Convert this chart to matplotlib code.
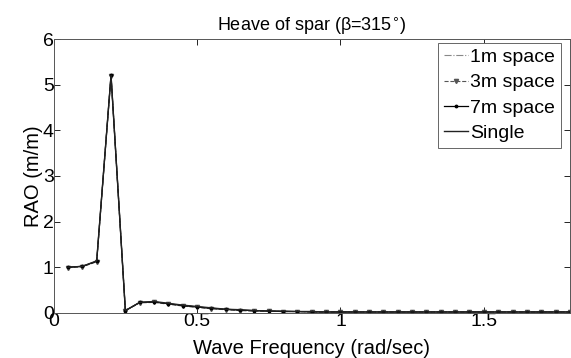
import matplotlib
matplotlib.use("Agg")
import matplotlib.pyplot as plt
import numpy as np

plt.rcParams['font.family'] = ['Liberation Sans', 'DejaVu Sans']

freq = [0.05, 0.10, 0.15, 0.20, 0.25, 0.30, 0.35, 0.40, 0.45, 0.50,
        0.55, 0.60, 0.65, 0.70, 0.75, 0.80, 0.85, 0.90, 0.95, 1.00,
        1.05, 1.10, 1.15, 1.20, 1.25, 1.30, 1.35, 1.40, 1.45, 1.50,
        1.55, 1.60, 1.65, 1.70, 1.75, 1.80]
rao_1m = [1.00, 1.02, 1.13, 5.20, 0.05, 0.23, 0.24, 0.20, 0.16, 0.13,
          0.10, 0.07, 0.06, 0.04, 0.04, 0.03, 0.03, 0.02, 0.02, 0.02,
          0.02, 0.02, 0.02, 0.02, 0.02, 0.02, 0.02, 0.02, 0.02, 0.02,
          0.02, 0.02, 0.02, 0.02, 0.02, 0.02]
rao_3m = [0.99, 1.01, 1.12, 5.20, 0.05, 0.22, 0.23, 0.19, 0.15, 0.12,
          0.09, 0.07, 0.05, 0.04, 0.04, 0.03, 0.03, 0.02, 0.02, 0.02,
          0.02, 0.02, 0.02, 0.02, 0.02, 0.02, 0.02, 0.02, 0.02, 0.02,
          0.02, 0.02, 0.02, 0.02, 0.02, 0.02]
rao_7m = [1.00, 1.02, 1.13, 5.21, 0.05, 0.23, 0.24, 0.20, 0.16, 0.13,
          0.10, 0.08, 0.06, 0.05, 0.04, 0.03, 0.03, 0.02, 0.02, 0.02,
          0.02, 0.02, 0.02, 0.02, 0.02, 0.02, 0.02, 0.02, 0.02, 0.02,
          0.02, 0.02, 0.02, 0.02, 0.02, 0.02]
rao_single = [1.00, 1.02, 1.14, 5.20, 0.05, 0.23, 0.25, 0.21, 0.17, 0.14,
              0.11, 0.08, 0.07, 0.05, 0.04, 0.04, 0.03, 0.03, 0.02, 0.02,
              0.02, 0.02, 0.02, 0.02, 0.02, 0.02, 0.02, 0.02, 0.02, 0.02,
              0.02, 0.02, 0.02, 0.02, 0.02, 0.02]

x_ticks = [0, 0.5, 1, 1.5]
x_ticklabels = ['0', '0.5', '1', '1.5']
y_ticks = [0, 1, 2, 3, 4, 5, 6]

fig = plt.figure(figsize=(5.71, 3.58), dpi=100)
ax = fig.add_axes([0.094, 0.126, 0.904, 0.765])

ax.plot(freq, rao_1m, linestyle='-.', color='#888888', lw=0.8, label='1m space')
ax.plot(freq, rao_3m, linestyle='--', color='#555555', lw=0.8, marker='v',
        markersize=3, label='3m space')
ax.plot(freq, rao_7m, linestyle='-', color='black', lw=0.9, marker='.',
        markersize=3.5, label='7m space')
ax.plot(freq, rao_single, linestyle='-', color='#222222', lw=1.0, label='Single')

ax.set_xlim(0, 1.8)
ax.set_ylim(0, 6)
ax.set_xticks(x_ticks)
ax.set_xticklabels(x_ticklabels)
ax.set_yticks(y_ticks)
ax.tick_params(direction='in', top=True, right=True, labelsize=14, length=4,
               width=0.6, colors='black', pad=0)
ax.tick_params(axis='x', pad=0)
for s in ax.spines.values():
    s.set_linewidth(0.7)
    s.set_color('#555555')

ax.set_xlabel('Wave Frequency (rad/sec)', fontsize=14.5)
ax.xaxis.set_label_coords(0.5, -0.095, transform=ax.transAxes)
ax.xaxis.label.set_va('top')
ax.set_ylabel('RAO (m/m)', fontsize=14.5, labelpad=0)
ax.set_title('Heave of spar (β=315$^{\\circ}$)', fontsize=13, pad=6)

leg = ax.legend(loc='upper right', fontsize=14, handlelength=1.25,
                handletextpad=0.1, borderpad=0.3, labelspacing=0.4,
                fancybox=False, edgecolor='#666666', framealpha=1,
                bbox_to_anchor=(0.983, 0.987), borderaxespad=0)
leg.get_frame().set_linewidth(0.7)

fig.savefig('out.png', dpi=100)
